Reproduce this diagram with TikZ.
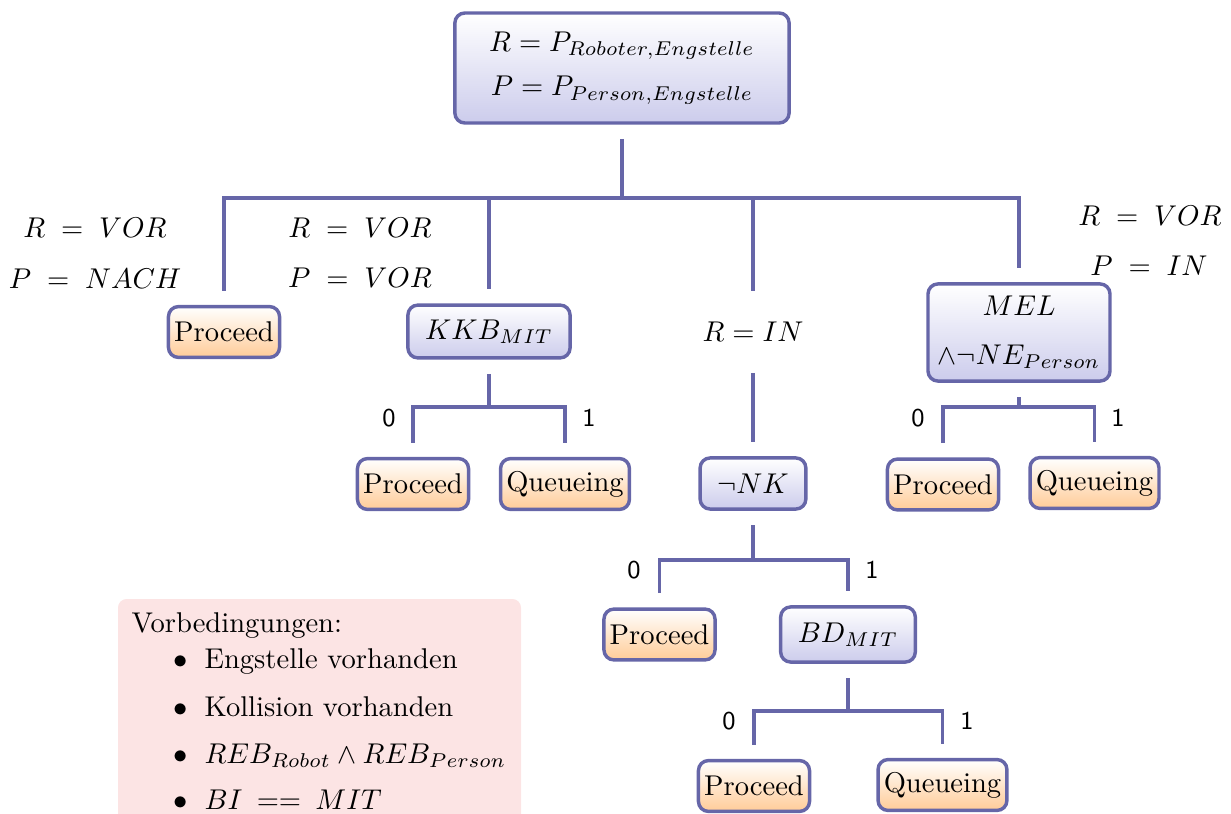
\documentclass[tikz,border=0pt]{standalone}
\begin{document}
\definecolor{edgeblue}{RGB}{102,102,168}
\definecolor{lavender}{RGB}{204,204,236}
\definecolor{peach}{RGB}{255,204,152}
\definecolor{notepink}{RGB}{252,228,228}
\tikzset{
  decision/.style={draw=edgeblue, line width=1.2pt, rounded corners=3.5pt,
    top color=white, bottom color=lavender, minimum height=18.5pt,
    inner xsep=6pt, align=center},
  leaf/.style={draw=edgeblue, line width=1.2pt, rounded corners=3.5pt,
    top color=white, bottom color=peach, minimum height=17.8pt,
    inner xsep=2pt, inner ysep=1pt},
  conn/.style={draw=edgeblue, line width=1.2pt, shorten <=5pt, shorten >=5pt},
  stem/.style={draw=edgeblue, line width=1.2pt, shorten <=5pt},
  drop/.style={draw=edgeblue, line width=1.2pt, shorten >=5pt},
  bit/.style={font=\sffamily\small},
  note/.style={anchor=base west, inner sep=0pt},
  dot/.style={anchor=base, inner sep=0pt},
}
\begin{tikzpicture}[x=0.35pt,y=-0.35pt]
\clip (0,0) rectangle (1231,814);

% root
\node[decision, minimum width=117pt, minimum height=38.5pt] (root) at (622,68)
  {$R = P_{Roboter,Engstelle}$\\[3.5pt] $P = P_{Person,Engstelle}$};

% first level
\node[leaf] (p1) at (224,332) {Proceed};
\node[decision, minimum width=56pt] (kkb) at (489,331.5) {$KKB_{MIT}$};
\node[minimum height=18.2pt, inner sep=0pt] (rin) at (753,332) {$R = IN$};
\node[decision, inner xsep=3pt, minimum width=63.7pt, minimum height=34pt] (mel) at (1019,332.5)
  {$MEL$\\[5pt] $\wedge\neg NE_{Person}$};

% conditions on the first-level branches
\node (l1a) at (95,228) {$R\;=\;VOR$};
\node (l1b) at (95,279) {$P\;=\;NACH$};
\node (l2a) at (360,228) {$R\;=\;VOR$};
\node (l2b) at (360,278) {$P\;=\;VOR$};
\node (l4a) at (1150,216) {$R\;=\;VOR$};
\node (l4b) at (1149,266) {$P\;=\;IN$};

\coordinate (b0) at (622,198);
\draw[stem] (root.south) -- (b0);
\draw[conn] (p1.north) |- (b0) -| (mel.north);
\draw[drop] (b0 -| kkb.north) -- (kkb.north);
\draw[drop] (b0 -| rin.north) -- (rin.north);

% KKB subtree
\node[leaf] (p2) at (413,484) {Proceed};
\node[leaf] (q2) at (565,484) {Queueing};
\coordinate (b1) at (489,407);
\draw[stem] (kkb.south) -- (b1);
\draw[conn] (p2.north) |- (b1) -| (q2.north);
\node[bit] (k0) at (389,418) {0};
\node[bit] (k1) at (589,418) {1};

% MEL subtree
\node[leaf] (p3) at (943,484.5) {Proceed};
\node[leaf] (q3) at (1094.5,483) {Queueing};
\coordinate (b2) at (1019,407);
\draw[stem] (mel.south) -- (b2);
\draw[conn] (p3.north) |- (b2) -| (q3.north);
\node[bit] (m0) at (918,418) {0};
\node[bit] (m1) at (1118,418) {1};

% NK subtree
\node[decision, minimum width=35.7pt, minimum height=17.9pt] (nk) at (753,483.5) {$\neg NK$};
\draw[conn] (rin.south) -- (nk.north);
\node[leaf] (p4) at (659.5,634.5) {Proceed};
\node[decision, minimum width=46.2pt, minimum height=19.3pt] (bd) at (848,634.5) {$BD_{MIT}$};
\coordinate (b3) at (753,560);
\draw[stem] (nk.south) -- (b3);
\draw[conn] (p4.north) |- (b3) -| (bd.north);
\node[bit] (n0) at (634,570) {0};
\node[bit] (n1) at (872,570) {1};

% BD subtree
\node[leaf] (p5) at (754,786) {Proceed};
\node[leaf] (q5) at (942.5,785) {Queueing};
\coordinate (b4) at (848,711);
\draw[stem] (bd.south) -- (b4);
\draw[conn] (p5.north) |- (b4) -| (q5.north);
\node[bit] (d0) at (729,721) {0};
\node[bit] (d1) at (967,721) {1};

% preconditions
\fill[notepink, rounded corners=3pt] (118,599) rectangle (521,850);
\node[note] (vb) at (131,632) {Vorbedingungen:};
\node[dot] (d1b) at (180.5,668) {$\bullet$};
\node[note] (i1) at (204,668) {Engstelle vorhanden};
\node[dot] (d2b) at (180.5,716) {$\bullet$};
\node[note] (i2) at (204,716) {Kollision vorhanden};
\node[dot] (d3b) at (180.5,763) {$\bullet$};
\node[note] (i3) at (204,763) {$REB_{Robot}\wedge REB_{Person}$};
\node[dot] (d4b) at (180.5,809) {$\bullet$};
\node[note] (i4) at (204,809) {$BI\:==\:MIT$};
\end{tikzpicture}
\end{document}
